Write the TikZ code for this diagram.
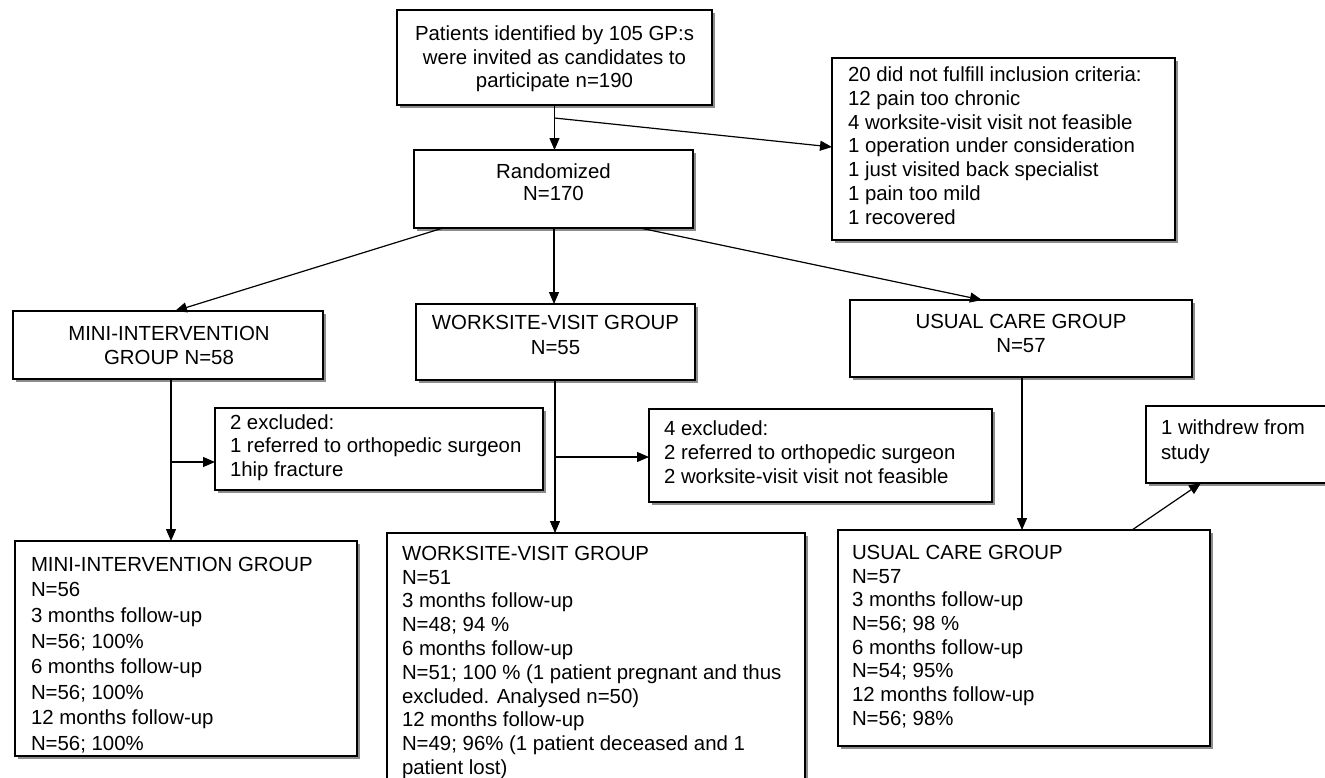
\documentclass[tikz,border=0pt]{standalone}
\usepackage{fontspec}
\setmainfont{Liberation Sans}
\usetikzlibrary{calc,shadows,arrows.meta}
\begin{document}
\begin{tikzpicture}[x=0.5pt,y=-0.5pt,
  bx/.style 2 args={draw, line width=0.8pt, fill=white, minimum width=#1*0.5pt,
    minimum height=#2*0.5pt, anchor=north west, inner sep=0pt, outer sep=0pt,
    drop shadow={shadow xshift=1.7pt, shadow yshift=-1.7pt, fill=black!45, opacity=1}},
  tx/.style={inner sep=0pt, outer sep=0pt, font=\fontsize{10.2}{11.9}\selectfont},
  txc/.style={tx, anchor=north, align=center},
  txl/.style={tx, anchor=north west, align=left},
  arr/.style={line width=0.6pt, -{Triangle[length=6pt,width=5pt]}},
  ln/.style={line width=0.6pt}]
\useasboundingbox (0,0) rectangle (1325,777);
\fill[white] (0,0) rectangle (1325,777);
% boxes
\node[bx={315}{95}] (top) at (397,10) {};
\node[bx={343}{182}] (excl) at (832,58) {};
\node[bx={279}{78}] (rand) at (414,150) {};
\node[bx={310}{68}] (mini) at (13,311) {};
\node[bx={279}{76}] (work) at (416,304) {};
\node[bx={342}{77}] (usual) at (850,300) {};
\node[bx={328}{82}] (exa) at (215,408) {};
\node[bx={343}{93}] (exb) at (649,409) {};
\node[bx={200}{77}] (wd) at (1146,406) {};
\node[bx={342}{215}] (minib) at (15,541) {};
\node[bx={418}{270}] (workb) at (387,533) {};
\node[bx={372}{216}] (usualb) at (838,530) {};
% texts
\node[txc] (topT) at (554.5,24.3) {\rule{0pt}{8pt}Patients identified by 105 GP:s\\were invited as candidates to\\participate n=190};
\node[txl] (exclT) at (848,65.5) {\rule{0pt}{8pt}20 did not fulfill inclusion criteria:\\12 pain too chronic\\4 worksite-visit visit not feasible\\1 operation under consideration\\1 just visited back specialist\\1 pain too mild\\1 recovered};
\node[txc, font=\fontsize{10.2}{11}\selectfont] (randT) at (553.5,162.3) {\rule{0pt}{8pt}Randomized\\N=170};
\node[txc, font=\fontsize{10.2}{12}\selectfont] (miniT) at (169,324.3) {\rule{0pt}{8pt}MINI-INTERVENTION\\GROUP N=58};
\node[txc, font=\fontsize{10.2}{12.5}\selectfont] (workT) at (555.5,313.3) {\rule{0pt}{8pt}WORKSITE-VISIT GROUP\\N=55};
\node[txc, font=\fontsize{10.2}{12}\selectfont] (usualT) at (1021,312.3) {\rule{0pt}{8pt}USUAL CARE GROUP\\N=57};
\node[txl, font=\fontsize{10.2}{11.75}\selectfont] (exaT) at (230,413.3) {\rule{0pt}{8pt}2 excluded:\\1 referred to orthopedic surgeon\\1hip fracture};
\node[txl, font=\fontsize{10.2}{12}\selectfont] (exbT) at (664,419.3) {\rule{0pt}{8pt}4 excluded:\\2 referred to orthopedic surgeon\\2 worksite-visit visit not feasible};
\node[txl, font=\fontsize{10.2}{12.5}\selectfont] (wdT) at (1161,418.3) {\rule{0pt}{8pt}1 withdrew from\\study};
\node[txl, font=\fontsize{10.2}{12.8}\selectfont] (minibT) at (31,555.3) {\rule{0pt}{8pt}MINI-INTERVENTION GROUP\\N=56\\3 months follow-up\\N=56; 100\%\\6 months follow-up\\N=56; 100\%\\12 months follow-up\\N=56; 100\%};
\node[txl] (workbT) at (402,544.3) {\rule{0pt}{8pt}WORKSITE-VISIT GROUP\\N=51\\3 months follow-up\\N=48; 94 \%\\6 months follow-up\\N=51; 100 \% (1 patient pregnant and thus\\excluded. Analysed n=50)\\12 months follow-up\\N=49; 96\% (1 patient deceased and 1\\patient lost)};
\node[txl, font=\fontsize{10.2}{11.85}\selectfont] (usualbT) at (852,543.3) {\rule{0pt}{8pt}USUAL CARE GROUP\\N=57\\3 months follow-up\\N=56; 98 \%\\6 months follow-up\\N=54; 95\%\\12 months follow-up\\N=56; 98\%};
% connectors
\draw[arr] (top.south) -- (top.south |- rand.north);
\coordinate (j1) at ($(top.south)+(0,13)$);
\draw[arr] (j1) -- ($(excl.north west)+(0,89)$);
\draw[arr] ($(rand.south west)+(29,0)$) -- ($(mini.north west)+(162,0)$);
\draw[arr] ($(rand.south west)+(140,0)$) -- ($(work.north west)+(138,0)$);
\draw[arr] ($(rand.south west)+(226,0)$) -- ($(usual.north west)+(132,0)$);
\draw[arr] ($(mini.south west)+(158,0)$) -- ($(minib.north west)+(156,0)$);
\coordinate (j2) at ($(mini.south west)+(158,83)$);
\draw[arr] (j2) -- ($(exa.north west)+(0,54)$);
\draw[arr] ($(work.south west)+(139,0)$) -- ($(workb.north west)+(168,0)$);
\coordinate (j3) at ($(work.south west)+(139,77)$);
\draw[arr] (j3) -- ($(exb.north west)+(0,48)$);
\draw[arr] ($(usual.south west)+(172,0)$) -- ($(usualb.north west)+(184,0)$);
\draw[arr] ($(usualb.north west)+(294,0)$) -- ($(wd.south west)+(55,0)$);
\end{tikzpicture}
\end{document}
